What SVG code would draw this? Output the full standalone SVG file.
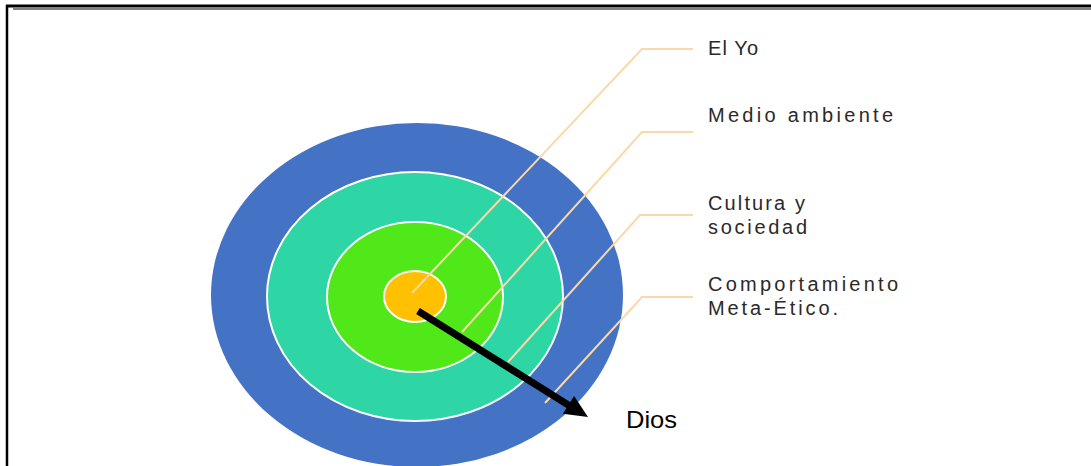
<svg xmlns="http://www.w3.org/2000/svg" width="1091" height="466" viewBox="0 0 1091 466">
<style>
.lbl{font-family:"Liberation Sans",Arial,sans-serif;font-size:20px;fill:#2a2a2a}
.lead{fill:none;stroke:#FBD8A8;stroke-width:2}
.ring{stroke:#ffffff;stroke-width:2}
</style>
<rect width="1091" height="466" fill="#ffffff"/>
<g id="border">
<line x1="6" y1="6" x2="1091" y2="6" stroke="#000" stroke-width="3"/>
<line x1="13" y1="9" x2="1091" y2="9" stroke="#808080" stroke-width="2"/>
<line x1="7" y1="5" x2="7" y2="466" stroke="#000" stroke-width="2.5"/>
</g>
<g id="ring-meta">
<ellipse cx="417" cy="295" rx="206" ry="172" fill="#4472C4"/>
</g>
<g id="ring-cultura">
<ellipse cx="415" cy="296.5" rx="148" ry="124.5" fill="#2ED6A5" class="ring"/>
</g>
<g id="ring-medio">
<ellipse cx="415" cy="297" rx="88" ry="75" fill="#50E818" class="ring"/>
</g>
<g id="ring-yo">
<ellipse cx="415" cy="296.5" rx="31" ry="25.5" fill="#FFC000" class="ring"/>
</g>
<g id="connectors">
<polyline class="lead" points="412,293 642,49 693,49"/>
<polyline class="lead" points="462,332 642,132 693,132"/>
<polyline class="lead" points="508,362 640,215 693,215"/>
<polyline class="lead" points="545,403 642,297 693,297"/>
<line x1="418" y1="311" x2="570" y2="406" stroke="#000" stroke-width="7"/>
<polygon points="588,417 562.9,413.7 574.1,395.9" fill="#000"/>
</g>
<g id="label-yo"><text class="lbl" x="708" y="55" textLength="50" lengthAdjust="spacing">El Yo</text></g>
<g id="label-medio"><text class="lbl" x="708" y="122" textLength="185" lengthAdjust="spacing">Medio ambiente</text></g>
<g id="label-cultura"><text class="lbl" x="708" y="210" textLength="97" lengthAdjust="spacing">Cultura y</text><text class="lbl" x="708" y="234" textLength="99" lengthAdjust="spacing">sociedad</text></g>
<g id="label-meta"><text class="lbl" x="708" y="291" textLength="190" lengthAdjust="spacing">Comportamiento</text><text class="lbl" x="708" y="315" textLength="130" lengthAdjust="spacing">Meta-Ético.</text></g>
<g id="label-dios"><text x="626" y="428" font-family="Liberation Sans, Arial, sans-serif" font-size="24" fill="#000" textLength="51" lengthAdjust="spacingAndGlyphs">Dios</text></g>
</svg>
